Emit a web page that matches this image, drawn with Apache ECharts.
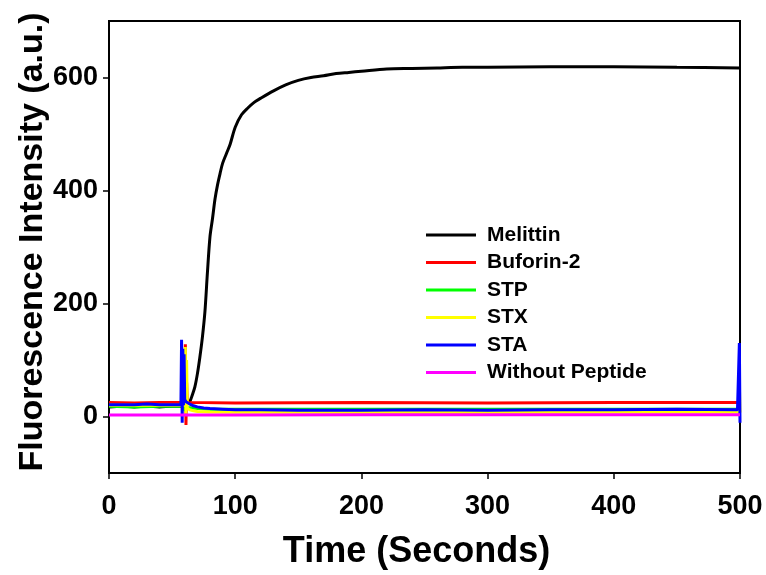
<!DOCTYPE html>
<html>
<head>
<meta charset="utf-8">
<script src="https://cdn.jsdelivr.net/npm/echarts@6/dist/echarts.min.js"></script>
<style>
html,body{margin:0;padding:0;background:#fff;}
#c{width:766px;height:575px;}
</style>
</head>
<body>
<div id="c"></div>
<script>
// ---- data ----
const seriesNames = ['Melittin', 'Buforin-2', 'STP', 'STX', 'STA', 'Without Peptide'];
const seriesColors = ['#000000', '#ff0000', '#00ff00', '#ffff00', '#0000ff', '#ff00ff'];

const melittinT = [0, 10, 20, 30, 40, 50, 58, 62, 64, 66, 68, 70, 72, 74, 76, 78, 80, 82, 84, 86, 88, 90, 93, 96, 100, 105, 110, 115, 120, 130, 140, 150, 160, 170, 180, 190, 200, 220, 240, 260, 280, 300, 350, 400, 450, 500];
const melittinV = [17, 18, 17, 18, 17, 18, 18, 22, 26, 38, 52, 75, 105, 140, 185, 255, 318, 350, 385, 410, 430, 448, 465, 482, 512, 534, 546, 556, 563, 576, 587, 595, 600, 603, 607, 609, 611, 615, 616, 617, 618, 618, 619, 619, 618, 617];

const buforinT = [0, 20, 40, 60, 60.5, 61, 61.5, 62, 100, 200, 300, 400, 500];
const buforinV = [25, 24, 25, 25, 128, -15, 60, 25, 24, 25, 24, 25, 25];

const stpT = [0, 20, 40, 57, 58, 59, 60, 62, 70, 80, 100, 200, 300, 400, 500];
const stpV = [18, 17, 18, 18, 40, 10, 20, 16, 14, 13, 13, 13, 13, 13, 13];

const stxT = [0, 30, 57, 60, 60.5, 61, 61.5, 62, 64, 67, 70, 80, 100, 150, 200, 300, 400, 499, 499.5, 500];
const stxV = [20, 20, 20, 20, 123, 5, 100, 15, 12, 10, 9, 8, 7.5, 7.5, 7, 7, 7.5, 7.5, 57, 7];

const staT = [0, 10, 20, 30, 40, 50, 57, 57.5, 58, 58.5, 59, 59.5, 60, 61, 62, 64, 67, 70, 75, 80, 90, 100, 120, 150, 200, 250, 300, 350, 400, 450, 498, 499, 499.5, 500];
const staV = [21, 21, 21, 22, 21, 21, 21, 136, -11, 120, 20, 110, 30, 26, 25, 22, 19, 17, 15, 14, 13, 12, 12, 11, 11, 12, 11, 12, 12, 13, 12, 12, 130, -11];

const noPepT = [0, 100, 200, 300, 400, 500];
const noPepV = [2.5, 2.5, 3, 3, 3, 3];

const xTicks = [0, 100, 200, 300, 400, 500];
const yTicks = [0, 200, 400, 600];

// ---- build ----
const pairs = (t, v) => t.map((x, i) => [x, v[i]]);
const allData = [
  pairs(melittinT, melittinV),
  pairs(buforinT, buforinV),
  pairs(stpT, stpV),
  pairs(stxT, stxV),
  pairs(staT, staV),
  pairs(noPepT, noPepV)
];

const FONT = '"Liberation Sans", Arial, sans-serif';

const chart = echarts.init(document.getElementById('c'), null, {renderer: 'canvas'});
chart.setOption({
  animation: false,
  backgroundColor: '#ffffff',
  grid: {
    left: 109, right: 26, top: 21, bottom: 100,
    show: true, borderColor: '#000', borderWidth: 2, backgroundColor: 'transparent'
  },
  legend: {
    orient: 'vertical',
    left: 421, top: 219,
    icon: 'rect',
    itemWidth: 50, itemHeight: 3,
    itemGap: 5.5,
    data: seriesNames,
    textStyle: {fontFamily: FONT, fontWeight: 'bold', fontSize: 21, color: '#000', lineHeight: 22, padding: [0, 0, 0, 6]}
  },
  xAxis: {
    type: 'value', min: 0, max: 500, interval: 100,
    name: 'Time (Seconds)', nameLocation: 'middle', nameGap: 61,
    nameMoveOverlap: false,
    nameTextStyle: {fontFamily: FONT, fontWeight: 'bold', fontSize: 36, color: '#000', padding: [0, 16, 0, 0]},
    axisLine: {show: true, onZero: false, lineStyle: {color: '#000', width: 2}},
    axisTick: {show: true, inside: false, length: 6, lineStyle: {color: '#000', width: 1.5}, customValues: xTicks},
    axisLabel: {fontFamily: FONT, fontWeight: 'bold', fontSize: 27, color: '#000', margin: 20, customValues: xTicks},
    splitLine: {show: false}
  },
  yAxis: {
    type: 'value', min: -100, max: 700, interval: 100,
    name: 'Fluorescence Intensity (a.u.)', nameLocation: 'middle', nameGap: 59,
    nameMoveOverlap: false,
    nameTextStyle: {fontFamily: FONT, fontWeight: 'bold', fontSize: 34, color: '#000', padding: [0, 0, 0, 10]},
    axisLine: {show: true, onZero: false, lineStyle: {color: '#000', width: 2}},
    axisTick: {show: true, inside: false, length: 6, lineStyle: {color: '#000', width: 1.5}, customValues: yTicks},
    axisLabel: {fontFamily: FONT, fontWeight: 'bold', fontSize: 27, color: '#000', margin: 11, customValues: yTicks},
    splitLine: {show: false}
  },
  series: seriesNames.map((n, i) => ({
    name: n,
    type: 'line',
    data: allData[i],
    showSymbol: false,
    symbol: 'none',
    smooth: i === 0 ? 0.3 : false,
    color: seriesColors[i],
    lineStyle: {color: seriesColors[i], width: 3},
    z: 2 + i
  }))
});
</script>
</body>
</html>
